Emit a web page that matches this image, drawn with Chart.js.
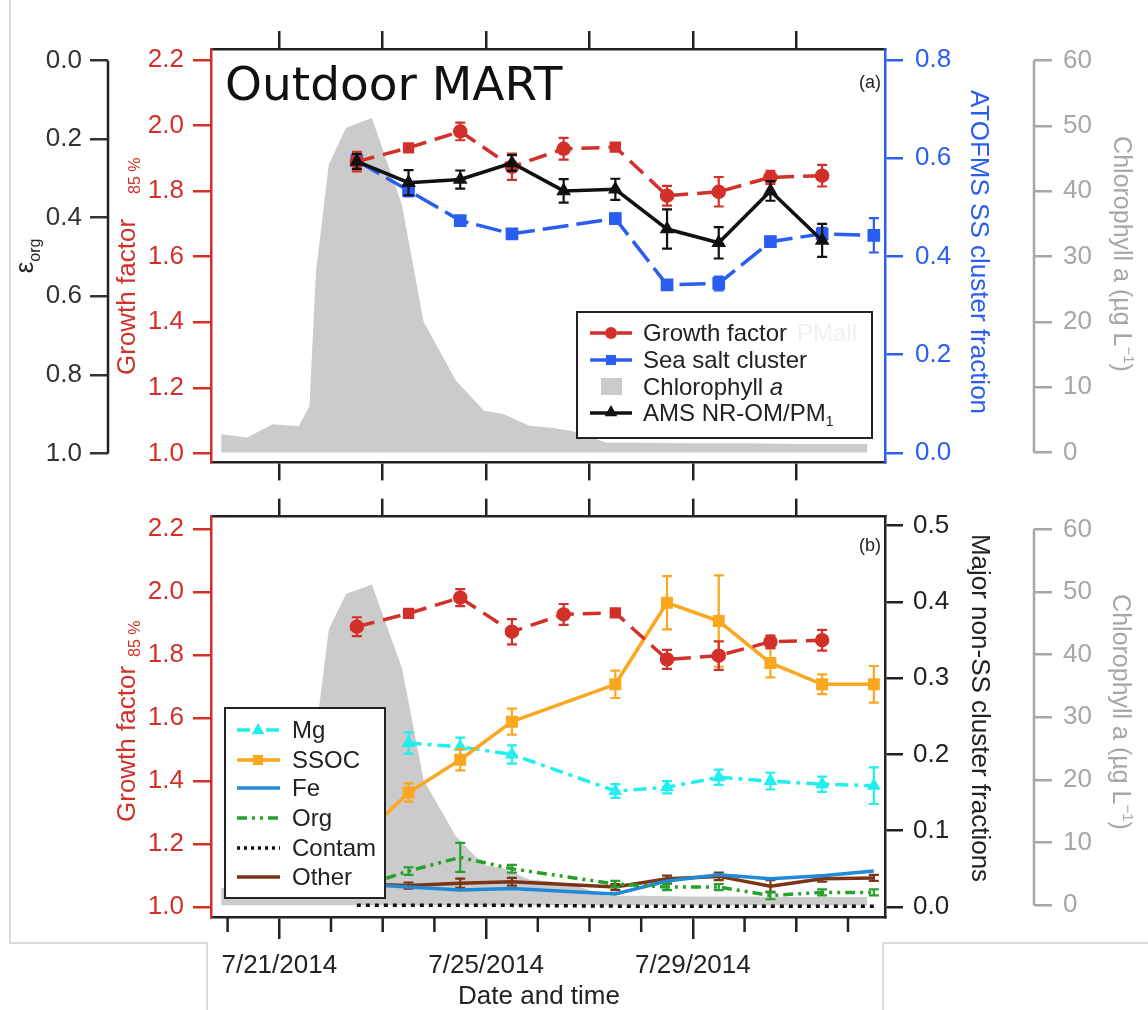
<!DOCTYPE html>
<html>
<head>
<meta charset="utf-8">
<title>Outdoor MART</title>
<script src="https://cdn.jsdelivr.net/npm/chart.js@4/dist/chart.umd.min.js"></script>
<style>
  html, body { margin: 0; padding: 0; background: #fff; }
  #wrap { position: relative; width: 1148px; height: 1010px; overflow: hidden; background: #fff; }
  .edge { position: absolute; background: #dadada; }
  canvas { position: absolute; left: 0; }
  #cTop { top: 0; }
  #cBot { top: 490px; }
</style>
</head>
<body>
<div id="wrap">
  <div class="edge" style="left:9px;top:0;width:2px;height:943px"></div>
  <div class="edge" style="left:9px;top:942px;width:199px;height:2px"></div>
  <div class="edge" style="left:206px;top:942px;width:2px;height:68px"></div>
  <div class="edge" style="left:882px;top:942px;width:2px;height:68px"></div>
  <div class="edge" style="left:882px;top:942px;width:266px;height:2px"></div>
  <canvas id="cTop" width="1148" height="490"></canvas>
  <canvas id="cBot" width="1148" height="520"></canvas>
</div>
<script>
// ---------------- data ----------------
// daily mean samples (noon)
const sampleTimes = ['7/22/2014 12:00', '7/23/2014 12:00', '7/24/2014 12:00', '7/25/2014 12:00',
  '7/26/2014 12:00', '7/27/2014 12:00', '7/28/2014 12:00', '7/29/2014 12:00', '7/30/2014 12:00',
  '7/31/2014 12:00', '8/1/2014 12:00'];

const growthFactor    = [1.890, 1.932, 1.982, 1.874, 1.929, 1.934, 1.786, 1.798, 1.842, 1.847, null];
const growthFactorErr = [0.030, 0.008, 0.027, 0.040, 0.033, 0.008, 0.030, 0.045, 0.020, 0.033, null];
const growthFactorMarks = ['circle', 'rect', 'circle', 'circle', 'circle', 'rect', 'circle', 'circle', 'circle', 'circle', 'circle'];

const seaSaltFraction    = [0.595, 0.534, 0.473, 0.446, null, 0.477, 0.342, 0.345, 0.430, 0.446, 0.443];
const seaSaltFractionErr = [0.010, 0.012, 0.008, 0.008, null, 0.010, 0.010, 0.014, 0.010, 0.012, 0.035];

const amsOrganicFraction    = [0.257, 0.311, 0.303, 0.261, 0.332, 0.328, 0.429, 0.464, 0.332, 0.458, null];
const amsOrganicFractionErr = [0.019, 0.032, 0.023, 0.020, 0.030, 0.027, 0.050, 0.040, 0.025, 0.042, null];

const mgFraction       = [null, 0.215, 0.210, 0.200, null, 0.152, 0.157, 0.170, 0.165, 0.161, 0.159];
const mgFractionErr    = [null, 0.014, 0.012, 0.012, null, 0.009, 0.008, 0.010, 0.011, 0.010, 0.024];
const ssocFraction     = [0.085, 0.150, 0.193, 0.243, null, 0.292, 0.399, 0.375, 0.320, 0.292, 0.292];
const ssocFractionErr  = [0.010, 0.012, 0.014, 0.017, null, 0.018, 0.035, 0.060, 0.019, 0.013, 0.024];
const feFraction       = [0.030, 0.026, 0.022, 0.024, null, 0.017, 0.034, 0.042, 0.037, 0.041, 0.047];
const orgFraction      = [0.025, 0.047, 0.065, 0.050, null, 0.030, 0.026, 0.026, 0.015, 0.019, 0.019];
const orgFractionErr   = [0.004, 0.005, 0.019, 0.005, null, 0.004, 0.004, 0.004, 0.005, 0.004, 0.004];
const contamFraction   = [0.002, 0.002, 0.002, 0.002, null, 0.001, 0.001, 0.001, 0.001, 0.001, 0.001];
const otherFraction    = [0.030, 0.028, 0.031, 0.033, null, 0.026, 0.037, 0.040, 0.027, 0.037, 0.038];
const otherFractionErr = [0.004, 0.004, 0.006, 0.005, null, 0.004, 0.004, 0.005, 0.008, 0.004, 0.004];

// chlorophyll a record (µg/L)
const chlTimes = ['7/19/2014 21:00', '7/20/2014 09:00', '7/20/2014 21:00', '7/21/2014 09:00',
  '7/21/2014 14:00', '7/21/2014 17:00', '7/21/2014 23:00', '7/22/2014 07:00', '7/22/2014 19:00',
  '7/23/2014 00:00', '7/23/2014 09:00', '7/23/2014 19:00', '7/24/2014 10:00', '7/24/2014 23:00',
  '7/25/2014 08:00', '7/25/2014 20:00', '7/26/2014 06:00', '7/26/2014 16:00', '7/27/2014 08:00',
  '7/28/2014 00:00', '7/29/2014 00:00', '7/30/2014 00:00', '7/31/2014 00:00', '8/1/2014 09:00'];
const chlorophyll = [2.8, 2.3, 4.3, 4.0, 7.1, 27.6, 44.1, 49.7, 51.2, 46.4, 37.8, 20.0, 11.0, 6.4,
  5.9, 4.1, 3.8, 3.3, 1.5, 1.5, 1.4, 1.4, 1.3, 1.3];

// axis ticks
const gfTicks = [1.0, 1.2, 1.4, 1.6, 1.8, 2.0, 2.2];
const epsTicks = [0.0, 0.2, 0.4, 0.6, 0.8, 1.0];
const ssTicks = [0.0, 0.2, 0.4, 0.6, 0.8];
const chlTicks = [0, 10, 20, 30, 40, 50, 60];
const fracTicks = [0.0, 0.1, 0.2, 0.3, 0.4, 0.5];
const dateLabelDays = ['7/21/2014', '7/25/2014', '7/29/2014'];
const twoDayTickDays = ['7/21/2014', '7/23/2014', '7/25/2014', '7/27/2014', '7/29/2014', '7/31/2014'];
const dailyTickDays = ['7/20/2014', '7/21/2014', '7/22/2014', '7/23/2014', '7/24/2014', '7/25/2014',
  '7/26/2014', '7/27/2014', '7/28/2014', '7/29/2014', '7/30/2014', '7/31/2014', '8/1/2014'];

// ---------------- helpers ----------------
const DAY0 = Date.UTC(2014, 6, 21);
function toDay(s) {
  const [d, t] = s.split(' ');
  const [m, dd, y] = d.split('/').map(Number);
  const [hh, mm] = (t || '0:00').split(':').map(Number);
  return (Date.UTC(y, m - 1, dd, hh, mm) - DAY0) / 86400000;
}
function dayLabel(v) {
  const d = new Date(DAY0 + Math.round(v * 86400000));
  return (d.getUTCMonth() + 1) + '/' + d.getUTCDate() + '/' + d.getUTCFullYear();
}
const pts = (times, vals) => times.map((t, i) => ({ x: toDay(t), y: vals[i] }));

const X_MIN = -1.321, X_MAX = 11.716;
const RED = '#d3302a', BLUE = '#2a5ef0', GRAY_AX = '#a6a6a6', INK = '#222222';
const FONT = '"Liberation Sans", Arial, Helvetica, sans-serif';
const AXW = 2.5;

Chart.defaults.font.family = FONT;
Chart.defaults.font.size = 26;

function yScale(position, min, max, ticks, color, pad, width, fmt, extra) {
  return Object.assign({
    type: 'linear', position, min, max,
    afterBuildTicks: s => { s.ticks = ticks.map(v => ({ value: v })); },
    afterFit: s => { s.width = width; },
    ticks: { color, padding: pad, font: { size: 26 }, callback: fmt, autoSkip: false },
    grid: { display: true, drawOnChartArea: false, drawTicks: true, tickLength: 18,
            tickWidth: AXW, lineWidth: AXW, tickColor: color, color },
    border: { display: true, color, width: AXW }
  }, extra || {});
}
function xScale(position, tickDays, height, tickLength, showLabels) {
  return {
    type: 'linear', position, min: X_MIN, max: X_MAX,
    afterBuildTicks: s => { s.ticks = tickDays.map(d => ({ value: toDay(d) })); },
    afterFit: s => { s.height = height; },
    ticks: { display: showLabels, color: INK, padding: 11, font: { size: 26 }, autoSkip: false,
             maxRotation: 0, callback: v => dayLabel(v) },
    grid: { display: true, drawOnChartArea: false, drawTicks: true, tickLength,
            tickWidth: AXW, lineWidth: AXW, tickColor: INK, color: INK },
    border: { display: true, color: INK, width: AXW }
  };
}
const f1 = v => Number(v).toFixed(1);
const f0 = v => String(Math.round(v));

// error bars drawn right after their own dataset
const errorBars = {
  id: 'errorBars',
  afterDatasetDraw(chart, args) {
    const ds = chart.data.datasets[args.index];
    if (!ds.errors) return;
    const meta = args.meta, ys = chart.scales[meta.yAxisID], ctx = chart.ctx;
    ctx.save();
    ctx.strokeStyle = ds.borderColor;
    ctx.lineWidth = 2.2;
    ctx.setLineDash([]);
    meta.data.forEach((pt, i) => {
      const v = ds.data[i].y, e = ds.errors[i];
      if (v == null || e == null) return;
      const x = pt.x, y1 = ys.getPixelForValue(v - e), y2 = ys.getPixelForValue(v + e);
      ctx.beginPath();
      ctx.moveTo(x, y1); ctx.lineTo(x, y2);
      ctx.moveTo(x - 5, y1); ctx.lineTo(x + 5, y1);
      ctx.moveTo(x - 5, y2); ctx.lineTo(x + 5, y2);
      ctx.stroke();
    });
    ctx.restore();
  }
};

function drawMarker(ctx, style, x, y, r, color) {
  ctx.save();
  ctx.fillStyle = color;
  ctx.setLineDash([]);
  ctx.beginPath();
  if (style === 'circle') ctx.arc(x, y, r, 0, 2 * Math.PI);
  else if (style === 'rect') ctx.rect(x - r * 0.72, y - r * 0.72, r * 1.44, r * 1.44);
  else if (style === 'triangle') {
    ctx.moveTo(x, y - r); ctx.lineTo(x + r * 0.9, y + r * 0.6); ctx.lineTo(x - r * 0.9, y + r * 0.6);
    ctx.closePath();
  }
  ctx.fill();
  ctx.restore();
}
function sampleLine(ctx, x1, x2, y, color, width, dash) {
  ctx.save();
  ctx.strokeStyle = color; ctx.lineWidth = width; ctx.setLineDash(dash || []);
  ctx.beginPath(); ctx.moveTo(x1, y); ctx.lineTo(x2, y); ctx.stroke();
  ctx.restore();
}
function richText(ctx, x, y, angle, parts, anchor) {
  ctx.save();
  ctx.translate(x, y); ctx.rotate(angle);
  ctx.textBaseline = 'alphabetic'; ctx.textAlign = 'left';
  let total = 0;
  const widths = parts.map(p => {
    ctx.font = p.font;
    const w = ctx.measureText(p.text).width;
    total += w + (p.gap || 0);
    return w;
  });
  let cx = anchor === 'center' ? -total / 2 : 0;
  parts.forEach((p, i) => {
    cx += p.gap || 0;
    ctx.font = p.font; ctx.fillStyle = p.color;
    ctx.fillText(p.text, cx, p.shift || 0);
    cx += widths[i];
  });
  ctx.restore();
}
function legendText(ctx, parts, x, y) {
  richText(ctx, x, y + 8, 0, parts, 'start');
}
function freeAxisLine(chart, id, side, v0, v1, color) {
  const s = chart.scales[id], ctx = chart.ctx;
  const x = side === 'right' ? s.right : s.left;
  ctx.save();
  ctx.strokeStyle = color; ctx.lineWidth = AXW; ctx.setLineDash([]);
  ctx.beginPath();
  ctx.moveTo(x, s.getPixelForValue(v0)); ctx.lineTo(x, s.getPixelForValue(v1));
  ctx.stroke();
  ctx.restore();
}

const F26 = '26px ' + FONT, F24 = '24px ' + FONT, F25 = '25px ' + FONT, F16 = '16px ' + FONT;

// ---------------- panel (a) ----------------
const topDeco = {
  id: 'topDeco',
  afterDraw(chart) {
    const ctx = chart.ctx;
    freeAxisLine(chart, 'yEps', 'right', 0, 1, INK);
    freeAxisLine(chart, 'yChl', 'left', 0, 60, GRAY_AX);

    ctx.save();
    ctx.fillStyle = '#111'; ctx.font = '47px "DejaVu Sans", sans-serif';
    ctx.textBaseline = 'alphabetic'; ctx.textAlign = 'left';
    ctx.fillText('Outdoor MART', 225, 100);
    ctx.font = '18px ' + FONT; ctx.fillStyle = INK; ctx.textAlign = 'right';
    ctx.fillText('(a)', 881, 88);
    ctx.restore();

    // axis titles
    richText(ctx, 33, 256, -Math.PI / 2, [
      { text: 'ε', font: F26, color: INK },
      { text: 'org', font: F16, color: INK, shift: 7 }], 'center');
    richText(ctx, 135, 375, -Math.PI / 2, [
      { text: 'Growth factor', font: F26, color: RED },
      { text: '85 %', font: F16, color: RED, shift: 5, gap: 25 }], 'start');
    richText(ctx, 971, 252, Math.PI / 2, [
      { text: 'ATOFMS SS cluster fraction', font: F26, color: BLUE }], 'center');
    richText(ctx, 1114, 254, Math.PI / 2, [
      { text: 'Chlorophyll a (µg L', font: F25, color: GRAY_AX },
      { text: '−1', font: '15px ' + FONT, color: GRAY_AX, shift: -10 },
      { text: ')', font: F25, color: GRAY_AX }], 'center');

    // legend
    ctx.save();
    ctx.fillStyle = '#fff'; ctx.fillRect(577, 312, 295, 126);
    ctx.strokeStyle = INK; ctx.lineWidth = 2; ctx.strokeRect(577, 312, 295, 126);
    ctx.restore();
    sampleLine(ctx, 590, 632, 333, RED, 3.5, [18, 9]);
    drawMarker(ctx, 'circle', 611, 333, 6, RED);
    legendText(ctx, [{ text: 'Growth factor', font: F24, color: INK }], 643, 333);
    legendText(ctx, [{ text: 'PMall', font: F24, color: '#f1f1f1' }], 797, 333);
    sampleLine(ctx, 590, 632, 360, BLUE, 3.5, []);
    drawMarker(ctx, 'rect', 611, 360, 7, BLUE);
    legendText(ctx, [{ text: 'Sea salt cluster', font: F24, color: INK }], 643, 360);
    ctx.save(); ctx.fillStyle = '#cbcbcb'; ctx.fillRect(601, 378, 21, 17); ctx.restore();
    legendText(ctx, [{ text: 'Chlorophyll ', font: F24, color: INK },
                     { text: 'a', font: 'italic 24px ' + FONT, color: INK }], 643, 387);
    sampleLine(ctx, 590, 632, 413, '#111', 3.5, []);
    drawMarker(ctx, 'triangle', 611, 412, 7, '#111');
    legendText(ctx, [{ text: 'AMS NR-OM/PM', font: F24, color: INK },
                     { text: '1', font: '14px ' + FONT, color: INK, shift: 5 }], 643, 413);
  }
};

new Chart(document.getElementById('cTop'), {
  type: 'line',
  data: {
    datasets: [
      { label: 'AMS NR-OM/PM1', data: pts(sampleTimes, amsOrganicFraction), errors: amsOrganicFractionErr,
        yAxisID: 'yEps', borderColor: '#111', backgroundColor: '#111', borderWidth: 3.5,
        pointStyle: 'triangle', pointRadius: 5, order: 1, spanGaps: true },
      { label: 'Growth factor', data: pts(sampleTimes, growthFactor), errors: growthFactorErr,
        yAxisID: 'yGF', borderColor: RED, backgroundColor: RED, borderWidth: 3.5, borderDash: [18, 9],
        pointStyle: growthFactorMarks, pointRadius: 5.5, order: 2, spanGaps: true },
      { label: 'Sea salt cluster', data: pts(sampleTimes, seaSaltFraction), errors: seaSaltFractionErr,
        yAxisID: 'ySS', borderColor: BLUE, backgroundColor: BLUE, borderWidth: 3.5, borderDash: [26, 8],
        pointStyle: 'rect', pointRadius: 6.5, order: 3, spanGaps: true },
      { label: 'Chlorophyll a', data: pts(chlTimes, chlorophyll), yAxisID: 'yChl',
        borderWidth: 0, backgroundColor: '#cbcbcb', fill: 'origin', pointRadius: 0, order: 10 }
    ]
  },
  options: {
    responsive: false, animation: false, devicePixelRatio: 1,
    layout: { padding: 0 },
    parsing: true,
    plugins: { legend: { display: false }, tooltip: { enabled: false } },
    scales: {
      x: xScale('bottom', twoDayTickDays, 25, 18, false),
      xTop: xScale('top', twoDayTickDays, 49, 18, false),
      yGF: yScale('left', 0.9727, 2.2333, gfTicks, RED, 9, 103, f1),
      yEps: yScale('left', -0.0291, 1.0228, epsTicks, '#333', 8, 108, f1,
                   { reverse: true, border: { display: false } }),
      ySS: yScale('right', -0.0192, 0.8222, ssTicks, BLUE, 12, 149, f1),
      yChl: yScale('right', -1.52, 61.75, chlTicks, GRAY_AX, 11, 114, f0, { border: { display: false } })
    }
  },
  plugins: [errorBars, topDeco]
});

// ---------------- panel (b) ----------------
const OFF = 490;
const MG = '#22eeee', SSOC = '#fba71f', FE = '#218ad6', ORG = '#27a12c', OTHER = '#7b3516';

const botDeco = {
  id: 'botDeco',
  afterDraw(chart) {
    const ctx = chart.ctx;
    freeAxisLine(chart, 'yChl', 'left', 0, 60, GRAY_AX);

    // daily minor ticks along the date axis
    const xs = chart.scales.x;
    ctx.save();
    ctx.strokeStyle = INK; ctx.lineWidth = AXW;
    dailyTickDays.forEach(d => {
      if (dateLabelDays.includes(d)) return;
      const px = xs.getPixelForValue(toDay(d));
      ctx.beginPath(); ctx.moveTo(px, xs.top); ctx.lineTo(px, xs.top + 15); ctx.stroke();
    });
    ctx.fillStyle = INK; ctx.font = '18px ' + FONT; ctx.textAlign = 'right';
    ctx.textBaseline = 'alphabetic';
    ctx.fillText('(b)', 881, 551 - OFF);
    ctx.font = F26; ctx.textAlign = 'center'; ctx.textBaseline = 'middle';
    ctx.fillText('Date and time', 539, 997 - OFF);
    ctx.restore();

    richText(ctx, 135, 822 - OFF, -Math.PI / 2, [
      { text: 'Growth factor', font: F26, color: RED },
      { text: '85 %', font: F16, color: RED, shift: 5, gap: 9 }], 'start');
    richText(ctx, 972, 708 - OFF, Math.PI / 2, [
      { text: 'Major non-SS cluster fractions', font: F26, color: INK }], 'center');
    richText(ctx, 1113, 712 - OFF, Math.PI / 2, [
      { text: 'Chlorophyll a (µg L', font: F25, color: GRAY_AX },
      { text: '−1', font: '15px ' + FONT, color: GRAY_AX, shift: -10 },
      { text: ')', font: F25, color: GRAY_AX }], 'center');

    // legend
    const L = 225, T = 708 - OFF, W = 160, H = 190;
    ctx.save();
    ctx.fillStyle = '#fff'; ctx.fillRect(L, T, W, H);
    ctx.strokeStyle = INK; ctx.lineWidth = 2; ctx.strokeRect(L, T, W, H);
    ctx.restore();
    const rows = [
      { name: 'Mg', color: MG, dash: [13, 6, 4, 6], mark: 'triangle', y: 730 },
      { name: 'SSOC', color: SSOC, dash: [], mark: 'rect', y: 760 },
      { name: 'Fe', color: FE, dash: [], y: 788 },
      { name: 'Org', color: ORG, dash: [10, 5, 3, 5, 3, 5], y: 818 },
      { name: 'Contam', color: '#111', dash: [3, 4], y: 848 },
      { name: 'Other', color: OTHER, dash: [], y: 877 }
    ];
    rows.forEach(r => {
      const y = r.y - OFF;
      sampleLine(ctx, 237, 280, y, r.color, 3.5, r.dash);
      if (r.mark) drawMarker(ctx, r.mark, 258, y, 7, r.color);
      legendText(ctx, [{ text: r.name, font: F24, color: INK }], 292, y);
    });
  }
};

new Chart(document.getElementById('cBot'), {
  type: 'line',
  data: {
    datasets: [
      { label: 'Growth factor', data: pts(sampleTimes, growthFactor), errors: growthFactorErr,
        yAxisID: 'yGF', borderColor: RED, backgroundColor: RED, borderWidth: 3.5, borderDash: [18, 9],
        pointStyle: growthFactorMarks, pointRadius: 5.5, order: 1, spanGaps: true },
      { label: 'SSOC', data: pts(sampleTimes, ssocFraction), errors: ssocFractionErr,
        yAxisID: 'yFrac', borderColor: SSOC, backgroundColor: SSOC, borderWidth: 3.5,
        pointStyle: 'rect', pointRadius: 6, order: 2, spanGaps: true },
      { label: 'Mg', data: pts(sampleTimes, mgFraction), errors: mgFractionErr,
        yAxisID: 'yFrac', borderColor: MG, backgroundColor: MG, borderWidth: 3.5, borderDash: [13, 6, 4, 6],
        pointStyle: 'triangle', pointRadius: 4.5, order: 3, spanGaps: true },
      { label: 'Org', data: pts(sampleTimes, orgFraction), errors: orgFractionErr,
        yAxisID: 'yFrac', borderColor: ORG, backgroundColor: ORG, borderWidth: 3.5,
        borderDash: [10, 5, 3, 5, 3, 5], pointRadius: 0, order: 4, spanGaps: true },
      { label: 'Fe', data: pts(sampleTimes, feFraction),
        yAxisID: 'yFrac', borderColor: FE, backgroundColor: FE, borderWidth: 3.5,
        pointRadius: 0, order: 5, spanGaps: true },
      { label: 'Other', data: pts(sampleTimes, otherFraction), errors: otherFractionErr,
        yAxisID: 'yFrac', borderColor: OTHER, backgroundColor: OTHER, borderWidth: 3.5,
        pointRadius: 0, order: 6, spanGaps: true },
      { label: 'Contam', data: pts(sampleTimes, contamFraction),
        yAxisID: 'yFrac', borderColor: '#111', backgroundColor: '#111', borderWidth: 3.5, borderDash: [4, 5],
        pointRadius: 0, order: 7, spanGaps: true },
      { label: 'Chlorophyll a', data: pts(chlTimes, chlorophyll), yAxisID: 'yChl',
        borderWidth: 0, backgroundColor: '#cbcbcb', fill: 'origin', pointRadius: 0, order: 10 }
    ]
  },
  options: {
    responsive: false, animation: false, devicePixelRatio: 1,
    layout: { padding: 0 },
    plugins: { legend: { display: false }, tooltip: { enabled: false } },
    scales: {
      x: xScale('bottom', dateLabelDays, 93, 22, true),
      xTop: xScale('top', twoDayTickDays, 19, 18, false),
      yGF: yScale('left', 0.9679, 2.2396, gfTicks, RED, 9, 211, f1),
      yFrac: yScale('right', -0.01326, 0.512, fracTicks, INK, 10, 149, f1),
      yChl: yScale('right', -1.88, 62.04, chlTicks, GRAY_AX, 11, 114, f0, { border: { display: false } })
    }
  },
  plugins: [errorBars, botDeco]
});
</script>
</body>
</html>
